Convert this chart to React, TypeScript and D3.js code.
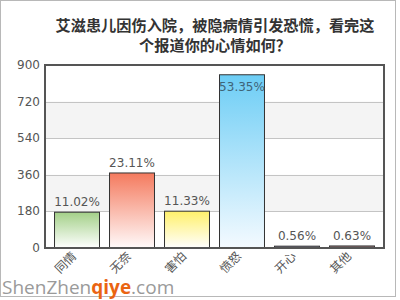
import React from "react";
import * as d3 from "d3";

const titleLines = ["艾滋患儿因伤入院，被隐病情引发恐慌，看完这", "个报道你的心情如何？"];
const categories = ["同情", "无奈", "害怕", "愤怒", "开心", "其他"];
const votes = [176, 369, 181, 852, 9, 10];
const percentLabels = ["11.02%", "23.11%", "11.33%", "53.35%", "0.56%", "0.63%"];
const yTicks = [0, 180, 360, 540, 720, 900];
const topColors = ["#a3d088", "#f47a5e", "#fff06a", "#6ccdf5", "#7c7a92", "#8f6f72"];
const bottomColors = ["#ffffff", "#fffafa", "#ffffff", "#f4faff", "#9c9ab0", "#af9094"];

const W = 400;
const H = 300;
const plot = { left: 45, right: 384, top: 65, bottom: 248 };

export default function App() {
  const x = d3
    .scaleBand<string>()
    .domain(categories)
    .range([plot.left, plot.right])
    .paddingInner(0.164)
    .paddingOuter(0.164);
  const y = d3.scaleLinear().domain([0, 900]).range([plot.bottom, plot.top]);

  const numFont = "'DejaVu Sans', Verdana, sans-serif";
  const cjkFont = "'Noto Sans CJK SC', sans-serif";

  return (
    <svg
      width={W}
      height={H}
      viewBox={`0 0 ${W} ${H}`}
      style={{ position: "absolute", left: 0, top: 0, background: "#fff" }}
    >
      <defs>
        {categories.map((c, i) => (
          <linearGradient key={c} id={`bar-grad-${i}`} x1="0" y1="0" x2="0" y2="1">
            <stop offset="0%" stopColor={topColors[i]} />
            <stop offset="100%" stopColor={bottomColors[i]} />
          </linearGradient>
        ))}
      </defs>

      <rect x={0.5} y={0.5} width={395} height={296} fill="#fff" stroke="#b8b8b8" />

      {titleLines.map((t, i) => (
        <text
          key={i}
          x={215}
          y={31 + i * 20}
          textAnchor="middle"
          fontFamily={cjkFont}
          fontWeight="bold"
          fontSize={15.2}
          fill="#333"
        >
          {t}
        </text>
      ))}

      {/* alternating horizontal bands */}
      {yTicks.slice(0, -1).map((t, i) =>
        i % 2 === 1 ? (
          <rect
            key={`band-${t}`}
            x={plot.left}
            y={y(yTicks[i + 1])}
            width={plot.right - plot.left}
            height={y(t) - y(yTicks[i + 1])}
            fill="#f4f4f4"
          />
        ) : null
      )}
      {yTicks.slice(1, -1).map((t) => (
        <line
          key={`grid-${t}`}
          x1={plot.left}
          x2={plot.right}
          y1={Math.round(y(t)) + 0.5}
          y2={Math.round(y(t)) + 0.5}
          stroke="#c4c4c4"
        />
      ))}

      {yTicks.map((t) => (
        <text
          key={`yt-${t}`}
          x={40}
          y={y(t) + 4}
          textAnchor="end"
          fontFamily={numFont}
          fontSize={12}
          fill="#555"
        >
          {t}
        </text>
      ))}

      {categories.map((c, i) => {
        const bx = x(c)!;
        const top = y(votes[i]);
        return (
          <rect
            key={`bar-${c}`}
            x={bx + 0.5}
            y={top}
            width={x.bandwidth() - 1}
            height={plot.bottom - top}
            fill={`url(#bar-grad-${i})`}
            stroke="#333"
            strokeWidth={1}
          />
        );
      })}

      <rect
        x={plot.left}
        y={plot.top}
        width={plot.right - plot.left}
        height={plot.bottom - plot.top}
        fill="none"
        stroke="#555"
        strokeWidth={2}
      />

      {categories.map((c, i) => {
        const cx = x(c)! + x.bandwidth() / 2;
        const ly = Math.max(y(votes[i]) - 6, plot.top + 26);
        return (
          <text
            key={`lbl-${c}`}
            x={cx}
            y={ly}
            textAnchor="middle"
            fontFamily={numFont}
            fontSize={12}
            fill={ly > y(votes[i]) ? "#3f6478" : "#555"}
          >
            {percentLabels[i]}
          </text>
        );
      })}

      {categories.map((c) => {
        const cx = x(c)! + x.bandwidth() / 2;
        return (
          <text
            key={`xl-${c}`}
            transform={`translate(${cx},${plot.bottom + 9}) rotate(-45)`}
            textAnchor="end"
            fontFamily={cjkFont}
            fontSize={12}
            fill="#555"
          >
            {c}
          </text>
        );
      })}

      <text x={2} y={294} fontFamily="'Open Sans', sans-serif" fontSize={19} fill="#9a9a9a">
        ShenZhen
        <tspan fill="#ea6412" fontWeight="bold">qiye</tspan>
        <tspan>.com</tspan>
      </text>
    </svg>
  );
}
